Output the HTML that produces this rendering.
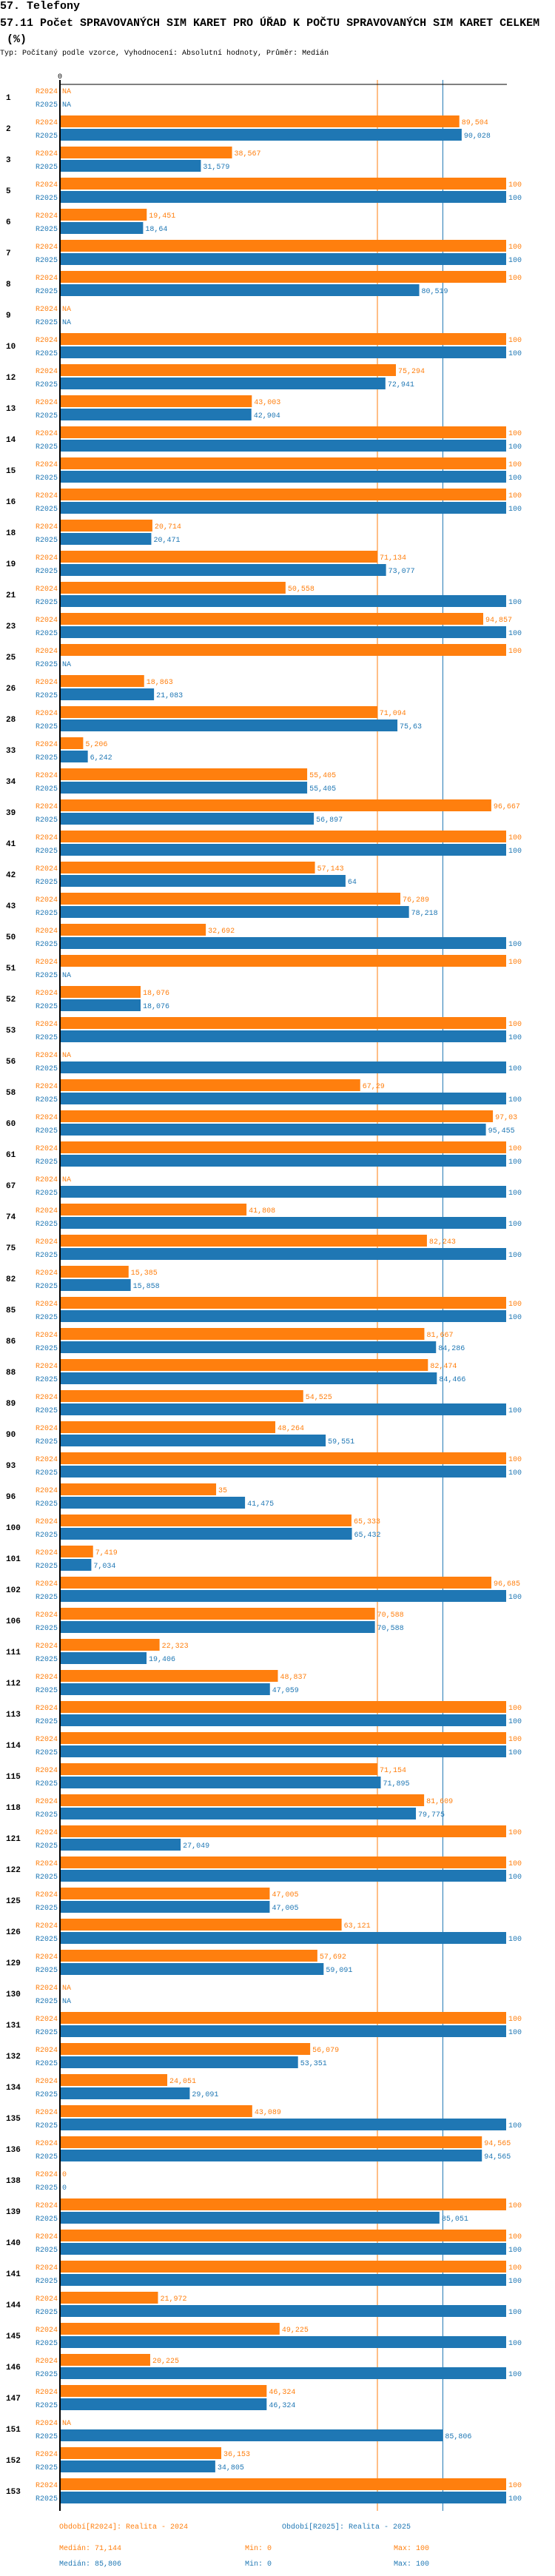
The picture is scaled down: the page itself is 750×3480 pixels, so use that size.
<!DOCTYPE html>
<html><head><meta charset="utf-8">
<style>
body{margin:0;background:#fff;width:750px;height:3480px;overflow:hidden;font-family:"Liberation Mono",monospace;}
.t{position:absolute;left:0;white-space:pre;color:#000;font-family:"Liberation Mono","DejaVu Sans Mono",monospace;}
</style></head>
<body>
<div class="t" style="top:0;font-size:15px;font-weight:bold;line-height:18px">57. Telefony</div>
<div class="t" style="top:21px;font-size:15px;font-weight:bold;line-height:22px">57.11 Počet SPRAVOVANÝCH SIM KARET PRO ÚŘAD K POČTU SPRAVOVANÝCH SIM KARET CELKEM
 (%)</div>
<div class="t" style="top:66px;font-size:10px;line-height:14px">Typ: Počítaný podle vzorce, Vyhodnocení: Absolutní hodnoty, Průměr: Medián</div>
<svg id="chart" width="750" height="3480" style="position:absolute;left:0;top:0" xmlns="http://www.w3.org/2000/svg"></svg>
<script>
const categories=["1","2","3","5","6","7","8","9","10","12","13","14","15","16","18","19","21","23","25","26","28","33","34","39","41","42","43","50","51","52","53","56","58","60","61","67","74","75","82","85","86","88","89","90","93","96","100","101","102","106","111","112","113","114","115","118","121","122","125","126","129","130","131","132","134","135","136","138","139","140","141","144","145","146","147","151","152","153"];
const values2024=[null,89.504,38.567,100,19.451,100,100,null,100,75.294,43.003,100,100,100,20.714,71.134,50.558,94.857,100,18.863,71.094,5.206,55.405,96.667,100,57.143,76.289,32.692,100,18.076,100,null,67.29,97.03,100,null,41.808,82.243,15.385,100,81.667,82.474,54.525,48.264,100,35,65.333,7.419,96.685,70.588,22.323,48.837,100,100,71.154,81.609,100,100,47.005,63.121,57.692,null,100,56.079,24.051,43.089,94.565,0,100,100,100,21.972,49.225,20.225,46.324,null,36.153,100];
const values2025=[null,90.028,31.579,100,18.64,100,80.519,null,100,72.941,42.904,100,100,100,20.471,73.077,100,100,null,21.083,75.63,6.242,55.405,56.897,100,64,78.218,100,null,18.076,100,100,100,95.455,100,100,100,100,15.858,100,84.286,84.466,100,59.551,100,41.475,65.432,7.034,100,70.588,19.406,47.059,100,100,71.895,79.775,27.049,100,47.005,100,59.091,null,100,53.351,29.091,100,94.565,0,85.051,100,100,100,100,100,46.324,85.806,34.805,100];
const medians=[71.144,85.806];
const seriesNames=["R2024","R2025"];
const tickLabels=["0"];
const C=["#ff7f0e","#1f77b4"];
const svg=document.getElementById('chart');
const NS="http://www.w3.org/2000/svg";
const X0=81,X100=684,TOP=114,PITCH=42,BH=16;
const x=v=>X0+(X100-X0)*v/100;
const rowY=i=>TOP+i*PITCH;
function mk(t,a,txt){const e=document.createElementNS(NS,t);for(const k in a)e.setAttribute(k,a[k]);if(txt!=null)e.textContent=txt;svg.appendChild(e);return e;}
const fmt=v=>String(v).replace('.',',');
const endY=rowY(categories.length)+2;
// median lines
medians.forEach((m,s)=>{
 const l=mk('line',{x1:x(m),x2:x(m),y1:108,y2:endY,stroke:C[s],'stroke-width':1});
 
 
});
// axis
const ax=mk('line',{x1:X0-1,x2:X100+1,y1:TOP,y2:TOP,stroke:'#000','stroke-width':1});


tickLabels.forEach(t=>{
 const tl=mk('text',{x:x(+t),y:106,'font-size':10,'text-anchor':'middle','font-family':'Liberation Mono, monospace'},t);
 
 
});
categories.forEach((c,i)=>{
 const y=rowY(i);
 const lab=mk('text',{x:8,y:y+21,'font-size':11,'font-weight':'bold','font-family':'Liberation Mono, monospace'},c);
 
 
 [values2024,values2025].forEach((arr,s)=>{
  const by=y+s*(BH+2);
  const v=arr[i];
  const sl=mk('text',{x:78,y:by+12,'font-size':10,'text-anchor':'end',fill:C[s],'font-family':'Liberation Mono, monospace'},seriesNames[s]);
  
  
  if(v!==null&&v>0){
   const r=mk('rect',{x:X0,y:by,width:x(v)-X0,height:BH,fill:C[s]});
   
   
  }
  const tx=(v===null||v===0)?X0+3:x(v)+3;
  const vl=mk('text',{x:tx,y:by+12,'font-size':10,fill:C[s],'font-family':'Liberation Mono, monospace'},v===null?'NA':fmt(v));
  
  
 });
});
const ya=mk('rect',{x:X0-1,y:108,width:2,height:endY-108,fill:'#000'});


// legend/footer
const foot=[
 [80,3416,"Období[R2024]: Realita - 2024",0],[381,3416,"Období[R2025]: Realita - 2025",1],
 [80,3445,"Medián: "+fmt(medians[0]),0],[331,3445,"Min: 0",0],[532,3445,"Max: 100",0],
 [80,3474-8,"Medián: "+fmt(medians[1]),1],[331,3466,"Min: 0",1],[532,3466,"Max: 100",1]];
foot.forEach(f=>{
 const t=mk('text',{x:f[0],y:f[1],'font-size':10,fill:C[f[3]],'font-family':'Liberation Mono, monospace'},f[2]);
 
 
});
</script>
</body></html>
